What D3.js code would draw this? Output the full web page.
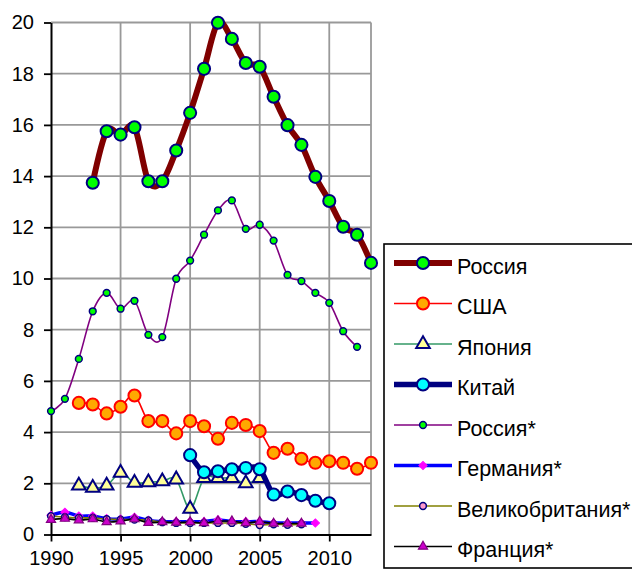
<!DOCTYPE html>
<html lang="ru">
  <head>
    <meta charset="UTF-8" />
    <title>Chart</title>
    <script src="https://d3js.org/d3.v7.min.js"></script>
    <style>
      body { margin: 0; background: #fff; }
      text { font-family: "Liberation Sans", Arial, sans-serif; }
    </style>
  </head>
  <body>
    <svg width="632" height="570"></svg>
    <script>
      // values, one array per series
      const russia = [13.74, 15.75, 15.62, 15.91, 13.8, 13.8, 15.0, 16.47, 18.19, 19.99, 19.36, 18.42, 18.27, 17.1, 15.99, 15.22, 13.97, 13.03, 12.02, 11.71, 10.61]; // from 1993
      const usa = [5.14, 5.08, 4.73, 4.99, 5.43, 4.43, 4.43, 3.95, 4.43, 4.23, 3.74, 4.36, 4.28, 4.04, 3.19, 3.35, 2.96, 2.8, 2.86, 2.8, 2.57, 2.8]; // from 1992
      const japan = [1.91, 1.82, 1.91, 2.41, 2.02, 2.04, 2.08, 2.15, 1.0, 2.2, 2.2, 2.2, 2.0, 2.2]; // from 1992
      const china = [3.1, 2.43, 2.47, 2.55, 2.6, 2.55, 1.56, 1.68, 1.54, 1.32, 1.22]; // from 2000
      const russiaStar = [4.82, 5.3, 6.86, 8.72, 9.44, 8.82, 9.13, 7.8, 7.71, 9.99, 10.7, 11.71, 12.66, 13.05, 11.94, 12.1, 11.48, 10.14, 9.9, 9.44, 9.05, 7.94, 7.33]; // from 1990
      const germany = [0.75, 0.87, 0.72, 0.72, 0.62, 0.6, 0.67, 0.55, 0.5, 0.5, 0.5, 0.5, 0.57, 0.5, 0.5, 0.5, 0.45, 0.45, 0.45, 0.45]; // from 1990
      const uk = [0.72, 0.68, 0.65, 0.65, 0.6, 0.58, 0.58, 0.55, 0.48, 0.45, 0.45, 0.45, 0.45, 0.45, 0.42, 0.37, 0.4, 0.38, 0.4]; // from 1990
      const france = [0.58, 0.62, 0.56, 0.6, 0.49, 0.52, 0.6, 0.46, 0.49, 0.47, 0.49, 0.45, 0.52, 0.52, 0.45, 0.5, 0.43, 0.43, 0.43]; // from 1990

      const startYears = [1993, 1992, 1992, 2000, 1990, 1990, 1990, 1990];
      const names = ["Россия", "США", "Япония", "Китай", "Россия*", "Германия*", "Великобритания*", "Франция*"];
      const xTicks = [1990, 1995, 2000, 2005, 2010];
      const yTicks = [0, 2, 4, 6, 8, 10, 12, 14, 16, 18, 20];

      const styles = [
        { line: "#800000", w: 6, shape: d3.symbolCircle, size: 115, fill: "#00ff00", stroke: "#000080", sw: 2 },
        { line: "#ff0000", w: 1.6, shape: d3.symbolCircle, size: 115, fill: "#ffa800", stroke: "#ff0000", sw: 2 },
        { line: "#339966", w: 1.6, shape: d3.symbolTriangle, size: 80, fill: "#ffff99", stroke: "#000080", sw: 2 },
        { line: "#000080", w: 5.5, shape: d3.symbolCircle, size: 115, fill: "#00ffff", stroke: "#000080", sw: 2 },
        { line: "#800080", w: 1.6, shape: d3.symbolCircle, size: 36, fill: "#00ff00", stroke: "#000080", sw: 1.5 },
        { line: "#0000ff", w: 3.5, shape: d3.symbolSquare, size: 34, fill: "#ff00ff", stroke: "#ff00ff", sw: 1, rot: 45 },
        { line: "#808000", w: 1.6, shape: d3.symbolCircle, size: 36, fill: "#ff99cc", stroke: "#000080", sw: 1.5 },
        { line: "#000000", w: 1.6, shape: d3.symbolTriangle, size: 36, fill: "#cc00cc", stroke: "#800080", sw: 1.2 }
      ];
      const seriesValues = [russia, usa, japan, china, russiaStar, germany, uk, france];

      const svg = d3.select("svg");
      const x = d3.scaleLinear().domain([1990, 2013]).range([51, 371]);
      const y = d3.scaleLinear().domain([0, 20]).range([534.5, 22.5]);

      // grid
      svg.append("g")
        .selectAll("line.h")
        .data(yTicks.filter((d) => d > 0))
        .join("line")
        .attr("x1", x(1990)).attr("x2", x(2013))
        .attr("y1", (d) => y(d)).attr("y2", (d) => y(d))
        .attr("stroke", "#999").attr("stroke-width", 1.8);
      svg.append("g")
        .selectAll("line.v")
        .data([1995, 2000, 2005, 2010, 2013])
        .join("line")
        .attr("x1", (d) => x(d)).attr("x2", (d) => x(d))
        .attr("y1", y(0)).attr("y2", y(20))
        .attr("stroke", "#999").attr("stroke-width", 1.8);

      // axes
      const xAxis = svg.append("g")
        .attr("transform", "translate(0," + y(0) + ")")
        .call(d3.axisBottom(x).tickValues(xTicks).tickFormat(d3.format("d")).tickSize(7).tickSizeOuter(0).tickPadding(9));
      const yAxis = svg.append("g")
        .attr("transform", "translate(" + x(1990) + ",0)")
        .call(d3.axisLeft(y).tickValues(yTicks).tickSize(7).tickSizeOuter(0).tickPadding(10));
      [xAxis, yAxis].forEach((a) => {
        a.select(".domain").attr("stroke", "#000").attr("stroke-width", 2);
        a.selectAll(".tick line").attr("stroke", "#000").attr("stroke-width", 1.8);
        a.selectAll(".tick text").attr("font-size", 20).attr("fill", "#000")
          .attr("font-family", "'Liberation Sans', Arial, sans-serif");
      });
      xAxis.selectAll(".tick text").attr("dy", "0.72em");

      const line = d3.line()
        .x((d) => x(d[0]))
        .y((d) => y(d[1]))
        .curve(d3.curveCatmullRom.alpha(0));

      seriesValues.forEach((vals, i) => {
        const s = styles[i];
        const pts = vals.map((v, j) => [startYears[i] + j, v]);
        const g = svg.append("g");
        g.append("path")
          .datum(pts)
          .attr("fill", "none")
          .attr("stroke", s.line)
          .attr("stroke-width", s.w)
          .attr("stroke-linejoin", "round")
          .attr("d", line);
        g.selectAll("path.m")
          .data(pts)
          .join("path")
          .attr("class", "m")
          .attr("d", d3.symbol().type(s.shape).size(s.size))
          .attr("transform", (d) => "translate(" + x(d[0]) + "," + y(d[1]) + ")" + (s.rot ? " rotate(" + s.rot + ")" : ""))
          .attr("fill", s.fill)
          .attr("stroke", s.stroke)
          .attr("stroke-width", s.sw);
      });

      // legend
      const legend = svg.append("g");
      legend.append("rect")
        .attr("x", 384).attr("y", 244)
        .attr("width", 270).attr("height", 324)
        .attr("fill", "#fff").attr("stroke", "#000").attr("stroke-width", 1.6);
      const rows = legend.selectAll("g.row")
        .data(names)
        .join("g")
        .attr("transform", (d, i) => "translate(0," + (263 + i * 40.5) + ")");
      rows.append("line")
        .attr("x1", 394).attr("x2", 452)
        .attr("stroke", (d, i) => styles[i].line)
        .attr("stroke-width", (d, i) => styles[i].w);
      rows.append("path")
        .attr("d", (d, i) => d3.symbol().type(styles[i].shape).size(styles[i].size)())
        .attr("transform", (d, i) => "translate(423,0)" + (styles[i].rot ? " rotate(45)" : ""))
        .attr("fill", (d, i) => styles[i].fill)
        .attr("stroke", (d, i) => styles[i].stroke)
        .attr("stroke-width", (d, i) => styles[i].sw);
      rows.append("text")
        .attr("x", 457).attr("y", 10.5)
        .attr("font-size", 21.5)
        .attr("fill", "#000")
        .text((d) => d);
    </script>
  </body>
</html>
